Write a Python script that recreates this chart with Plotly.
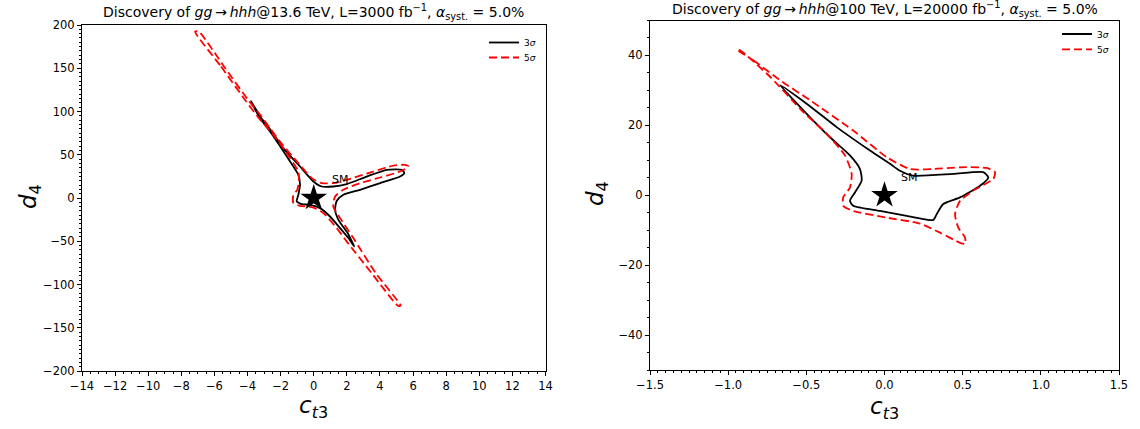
import plotly.graph_objects as go

# ---------------- 13.6 TeV, L = 3000 fb^-1 ----------------
lhc_3sig_ct3 = [-3.80, -3.15, -2.50, -1.84, -0.83, -0.02, 0.48, 1.18, 1.99, 3.20, 4.41, 5.32,
                5.47, 5.21, 4.01, 2.80, 1.79, 1.39, 1.29, 1.49, 2.05, 2.28, 2.45, 2.09, 1.59,
                0.98, 0.38, -0.22, -0.73, -1.03, -0.93, -0.83, -0.93, -1.43, -2.64, -3.27, -3.80]
lhc_3sig_d4 = [112, 92, 76, 57.6, 36.4, 19.1, 13.3, 13.3, 16.0, 24.8, 32.6, 32.6,
               28.8, 24.8, 17.2, 9.5, 3.7, -3.2, -13.6, -25.2, -40.5, -49.4, -56, -46.3, -34.8,
               -21.4, -11.7, -7.9, -7.0, -4.0, 3.7, 15.2, 26.8, 42.1, 76.8, 93, 112]

lhc_5sig_ct3 = [-7.17, -5.60, -4.15, -3.30, -2.44, -1.43, -0.93, -0.90, -1.00, -1.23, -1.23, -0.83,
                -0.02, 0.58, 1.39, 1.99, 3.50, 5.10, 5.25, 3.75, 2.39, 1.59, 1.18, 1.29, 1.79,
                2.80, 4.01, 5.21, 5.72, 5.52, 4.81, 3.60, 1.99, 1.18, 0.48, -0.12, -0.93, -2.04,
                -3.24, -3.95, -5.35, -6.95, -7.17]
lhc_5sig_d4 = [192.3, 152, 113.4, 92, 73, 46.1, 30.6, 19.0, 9.5, 3.7, -5.9, -9.0,
               -11.0, -17.4, -34.8, -50.2, -87, -124.8, -124.5, -87, -46.3, -23.2, -9.8, 1.7, 9.5,
               17.2, 23.7, 30.6, 36.4, 38.3, 37.5, 30.6, 21.0, 17.2, 17.2, 23.0, 40.3, 65.2,
               96.1, 113, 150, 192.5, 192.3]

# ---------------- 100 TeV, L = 20000 fb^-1 ----------------
fcc_3sig_ct3 = [-0.668, -0.498, -0.306, -0.093, 0.035, 0.099, 0.182, 0.440, 0.632, 0.664, 0.611,
                0.483, 0.376, 0.334, 0.312, 0.270, 0.142, -0.029, -0.200, -0.221, -0.189, -0.146,
                -0.157, -0.221, -0.349, -0.519, -0.668]
fcc_3sig_d4 = [31.5, 26.2, 19.5, 12.8, 9.0, 7.0, 5.6, 6.1, 6.6, 5.1, 2.7,
               -0.6, -2.5, -5.4, -7.1, -7.0, -5.9, -4.5, -3.0, -1.6, 0.8, 4.2,
               7.5, 11.4, 16.6, 24.3, 31.5]

fcc_5sig_ct3 = [-0.945, -0.839, -0.668, -0.477, -0.200, 0.014, 0.163, 0.312, 0.483, 0.654, 0.707,
                0.696, 0.568, 0.483, 0.451, 0.472, 0.515, 0.515, 0.483, 0.355, 0.227, 0.014,
                -0.200, -0.264, -0.264, -0.221, -0.210, -0.253, -0.370, -0.519, -0.732, -0.924,
                -0.945]
fcc_5sig_d4 = [41.7, 38.6, 32.9, 27.2, 18.5, 10.9, 7.5, 7.5, 8.0, 7.8, 6.6,
               4.7, 1.3, -1.6, -5.4, -9.25, -12.1, -13.9, -13.6, -10.7, -8.1, -6.4,
               -4.5, -3.0, -0.6, 2.2, 6.1, 11.4, 17.6, 23.8, 33.9, 41.5, 41.7]

sm_point = (0.0, 0.0)
titles = [
    "Discovery of <i>gg</i>\u2009\u2192\u2009<i>hhh</i>@13.6 TeV, L=3000 fb<sup>\u22121</sup>, <i>\u03b1</i><sub>syst.</sub> = 5.0%",
    "Discovery of <i>gg</i>\u2009\u2192\u2009<i>hhh</i>@100 TeV, L=20000 fb<sup>\u22121</sup>, <i>\u03b1</i><sub>syst.</sub> = 5.0%",
]
legend_names = ["3<i>\u03c3</i>", "5<i>\u03c3</i>"]

FONT = "DejaVu Sans"
W, H = 1140, 429

# Panel geometry (paper fractions)
dom_x1 = [82 / W, 545.5 / W]
dom_y1 = [1 - 371 / H, 1 - 25 / H]
dom_x2 = [650 / W, 1119 / W]
dom_y2 = [1 - 370 / H, 1 - 20.5 / H]

fig = go.Figure()

panels = [
    dict(xa="x", ya="y", legs=("legend", "legend2"),
         c3=(lhc_3sig_ct3, lhc_3sig_d4), c5=(lhc_5sig_ct3, lhc_5sig_d4)),
    dict(xa="x2", ya="y2", legs=("legend3", "legend4"),
         c3=(fcc_3sig_ct3, fcc_3sig_d4), c5=(fcc_5sig_ct3, fcc_5sig_d4)),
]

for p in panels:
    fig.add_trace(go.Scatter(
        x=p["c3"][0], y=p["c3"][1], mode="lines", name=legend_names[0],
        line=dict(color="black", width=1.8, shape="spline", smoothing=0.6),
        xaxis=p["xa"], yaxis=p["ya"], legend=p["legs"][0], hoverinfo="skip"))
    fig.add_trace(go.Scatter(
        x=p["c5"][0], y=p["c5"][1], mode="lines", name=legend_names[1],
        line=dict(color="red", width=1.8, dash="8px,4px", shape="spline", smoothing=0.6),
        xaxis=p["xa"], yaxis=p["ya"], legend=p["legs"][1], hoverinfo="skip"))
    fig.add_trace(go.Scatter(
        x=[sm_point[0]], y=[sm_point[1]], mode="markers", showlegend=False,
        marker=dict(symbol="star", size=20, color="black"),
        xaxis=p["xa"], yaxis=p["ya"], hoverinfo="skip"))

# "SM" labels next to the Standard-Model point
fig.add_annotation(x=1.0, y=11.5, xref="x", yref="y", text="SM", showarrow=False,
                   xanchor="left", yanchor="bottom", font=dict(family=FONT, size=11, color="black"))
fig.add_annotation(x=0.09, y=2.7, xref="x2", yref="y2", text="SM", showarrow=False,
                   xanchor="left", yanchor="bottom", font=dict(family=FONT, size=11, color="black"))

axis_common = dict(showgrid=False, zeroline=False, showline=True, linecolor="black", linewidth=1,
                   mirror=True, ticks="outside", ticklen=4, tickwidth=1, tickcolor="black",
                   automargin=False, tickfont=dict(family=FONT, size=11.5, color="black"))


def one_item_legend(x_right, y_mid):
    return dict(x=x_right, y=y_mid, xanchor="right", yanchor="middle",
                bgcolor="rgba(255,255,255,0)", borderwidth=0, itemwidth=30,
                font=dict(family=FONT, size=9, color="black"))


fig.update_layout(
    width=W, height=H, margin=dict(l=0, r=0, t=0, b=0, pad=0, autoexpand=False),
    paper_bgcolor="white", plot_bgcolor="white",
    xaxis=dict(domain=dom_x1, range=[-14, 14], tick0=-14, dtick=2, anchor="y",
               minor=dict(dtick=0.5, ticks="outside", ticklen=2, tickcolor="black"), **axis_common),
    yaxis=dict(domain=dom_y1, range=[-200, 200], tick0=0, dtick=50, anchor="x",
               minor=dict(dtick=5, ticks="outside", ticklen=2, tickcolor="black"), **axis_common),
    xaxis2=dict(domain=dom_x2, range=[-1.5, 1.5], tick0=-1.5, dtick=0.5, tickformat=".1f", anchor="y2",
                minor=dict(dtick=0.05, ticks="outside", ticklen=2, tickcolor="black"), **axis_common),
    yaxis2=dict(domain=dom_y2, range=[-50, 50], tick0=0, dtick=20, anchor="x2",
                minor=dict(dtick=5, ticks="outside", ticklen=2, tickcolor="black"), **axis_common),
    legend=one_item_legend(541 / W, 1 - 42.5 / H),
    legend2=one_item_legend(541 / W, 1 - 57.5 / H),
    legend3=one_item_legend(1114 / W, 1 - 34 / H),
    legend4=one_item_legend(1114 / W, 1 - 49.3 / H),
    showlegend=True,
)

# Titles
fig.add_annotation(x=(dom_x1[0] + dom_x1[1]) / 2, y=1 - 12.5 / H, xref="paper", yref="paper",
                   text=titles[0], showarrow=False, xanchor="center", yanchor="middle",
                   font=dict(family=FONT, size=14, color="black"))
fig.add_annotation(x=(dom_x2[0] + dom_x2[1]) / 2, y=1 - 9 / H, xref="paper", yref="paper",
                   text=titles[1], showarrow=False, xanchor="center", yanchor="middle",
                   font=dict(family=FONT, size=14, color="black"))

# Axis labels
xlab = "<i>c</i><sub><i>t</i>3</sub>"
ylab = "<i>d</i><sub>4</sub>"
fig.add_annotation(x=(dom_x1[0] + dom_x1[1]) / 2, y=1 - 407 / H, xref="paper", yref="paper",
                   text=xlab, showarrow=False, xanchor="center", yanchor="middle",
                   font=dict(family=FONT, size=23, color="black"))
fig.add_annotation(x=(dom_x2[0] + dom_x2[1]) / 2, y=1 - 408 / H, xref="paper", yref="paper",
                   text=xlab, showarrow=False, xanchor="center", yanchor="middle",
                   font=dict(family=FONT, size=23, color="black"))
fig.add_annotation(x=30 / W, y=1 - 197 / H, xref="paper", yref="paper",
                   text=ylab, showarrow=False, xanchor="center", yanchor="middle", textangle=-90,
                   font=dict(family=FONT, size=23, color="black"))
fig.add_annotation(x=597 / W, y=1 - 194 / H, xref="paper", yref="paper",
                   text=ylab, showarrow=False, xanchor="center", yanchor="middle", textangle=-90,
                   font=dict(family=FONT, size=23, color="black"))

fig.write_html("out.html")
